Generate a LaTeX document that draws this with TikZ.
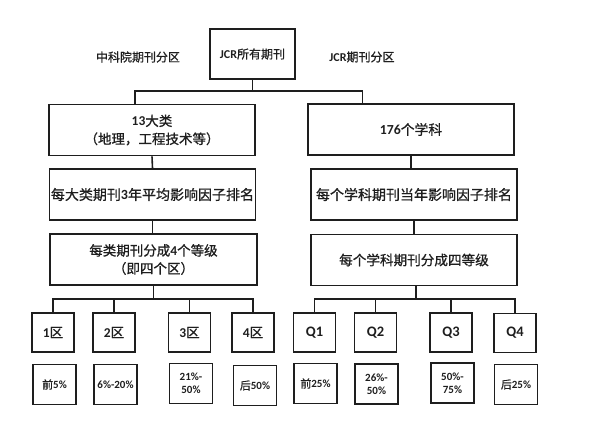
\documentclass[tikz,border=0pt]{standalone}
\usepackage{fontspec}
\setmainfont{Carlito}[BoldFont={Carlito Bold}]
\newfontfamily\cjk{Noto Sans CJK SC}[FakeBold=0.9, BoldFont={Noto Sans CJK SC}, BoldFeatures={FakeBold=0.9}]
\newcommand{\zh}[1]{{\cjk #1}}
\usetikzlibrary{calc}
\definecolor{ink}{HTML}{1E1E1E}
\tikzset{
  box/.style={draw=ink, line width=1.6pt, inner sep=0pt, align=center, text=ink, font=\bfseries},
  bigbox/.style={box, minimum width=206pt, minimum height=51pt},
  qbox/.style={box, minimum width=42pt, minimum height=39pt, font=\bfseries\fontsize{14.5}{16}\selectfont},
  pbox/.style={box, minimum width=43pt, minimum height=40pt, font=\bfseries\fontsize{11}{13}\selectfont},
  conn/.style={draw=ink, line width=1.6pt},
  lbl/.style={text=ink, font=\bfseries\fontsize{12}{14}\selectfont}
}
\begin{document}
\begin{tikzpicture}[x=1pt,y=-1pt]
\useasboundingbox (0,0) rectangle (592,429);
% top
\node[box, minimum width=85pt, minimum height=50pt, font=\bfseries\fontsize{12}{14}\selectfont] (top) at (252.5,54) {JCR\zh{所有期刊}};
\node[lbl] (lblL) at (138,57) {\zh{中科院期刊分区}};
\node[lbl] (lblR) at (362,57) {JCR\zh{期刊分区}};
% left column
\node[bigbox, font=\bfseries\fontsize{13.5}{18}\selectfont] (l1) at (152,130) {13\zh{大类}\\\zh{（地理，工程技术等）}};
\node[bigbox, font=\bfseries\fontsize{14}{17}\selectfont] (l2) at (152.5,194.5) {\zh{每大类期刊}3\zh{年平均影响因子排名}};
\node[bigbox, minimum width=207pt, font=\bfseries\fontsize{13.5}{18}\selectfont] (l3) at (153.5,259.5) {\zh{每类期刊分成}4\zh{个等级}\\\zh{（即四个区）}};
% right column
\node[bigbox, font=\bfseries\fontsize{13.8}{17}\selectfont] (r1) at (411,129.5) {176\zh{个学科}};
\node[bigbox, font=\bfseries\fontsize{14}{17}\selectfont] (r2) at (414,194.5) {\zh{每个学科期刊当年影响因子排名}};
\node[bigbox, font=\bfseries\fontsize{13.6}{17}\selectfont] (r3) at (414,260) {\zh{每个学科期刊分成四等级}};
% zone boxes
\node[qbox, font=\bfseries\fontsize{13.5}{15}\selectfont] (z1) at (53,332.5) {1\zh{区}};
\node[qbox, font=\bfseries\fontsize{13.5}{15}\selectfont] (z2) at (114,332.5) {2\zh{区}};
\node[qbox, font=\bfseries\fontsize{13.5}{15}\selectfont] (z3) at (189.5,332.5) {3\zh{区}};
\node[qbox, font=\bfseries\fontsize{13.5}{15}\selectfont] (z4) at (253,332.5) {4\zh{区}};
\node[qbox] (q1) at (314.5,332.5) {Q1};
\node[qbox] (q2) at (375.5,332.5) {Q2};
\node[qbox] (q3) at (451,332.5) {Q3};
\node[qbox] (q4) at (515,333) {Q4};
% percent boxes
\node[pbox] (p1) at (54.5,384.5) {\zh{前}5\%};
\node[pbox] (p2) at (115.5,384.5) {6\%-20\%};
\node[pbox] (p3) at (191,383.5) {21\%-\\50\%};
\node[pbox] (p4) at (255,385.5) {\zh{后}50\%};
\node[pbox] (s1) at (315.5,383.5) {\zh{前}25\%};
\node[pbox] (s2) at (376.5,384) {26\%-\\50\%};
\node[pbox] (s3) at (452.5,383) {50\%-\\75\%};
\node[pbox] (s4) at (516,384.5) {\zh{后}25\%};
% top connectors
\coordinate (jt) at (top.south |- 0,91);
\draw[conn] (top.south) -- (jt);
\draw[conn] ($(l1.north west)!0.417!(l1.north east)$) |- (jt) -| ($(r1.north west)!0.267!(r1.north east)$);
% column connectors
\draw[conn] (l1.south) -- (l2.north);
\draw[conn] (l2.south) -- (l2.south |- l3.north);
\draw[conn] (r1.south) -- (r1.south |- r2.north);
\draw[conn] (r2.south) -- (r3.north);
% left bus
\coordinate (jl) at (l3.south |- 0,299);
\draw[conn] (l3.south) -- (jl);
\draw[conn] (z1.north) |- (jl) -| (z4.north);
\draw[conn] (z2.north) -- (z2.north |- jl);
\draw[conn] (z3.north) -- (z3.north |- jl);
% right bus
\coordinate (jr) at ($(r3.south)+(2,0)$);
\coordinate (jr2) at (jr |- 0,299);
\draw[conn] (jr) -- (jr2);
\draw[conn] (q1.north) |- (jr2) -| (q4.north);
\draw[conn] (q2.north) -- (q2.north |- jr2);
\draw[conn] (q3.north) -- (q3.north |- jr2);
% zone to percent
\draw[conn] ($(z1.south)+(1.5,0)$) -- ($(z1.south)+(1.5,0)$ |- p1.north);
\draw[conn] ($(z2.south)+(1.5,0)$) -- ($(z2.south)+(1.5,0)$ |- p2.north);
\draw[conn] ($(z3.south)+(1.5,0)$) -- ($(z3.south)+(1.5,0)$ |- p3.north);
\draw[conn] ($(z4.south)+(1.5,0)$) -- ($(z4.south)+(1.5,0)$ |- p4.north);
\draw[conn] ($(q1.south)+(1,0)$) -- ($(q1.south)+(1,0)$ |- s1.north);
\draw[conn] ($(q2.south)+(1,0)$) -- ($(q2.south)+(1,0)$ |- s2.north);
\draw[conn] ($(q3.south)+(1,0)$) -- ($(q3.south)+(1,0)$ |- s3.north);
\draw[conn] ($(q4.south)+(1,0)$) -- ($(q4.south)+(1,0)$ |- s4.north);
\end{tikzpicture}
\end{document}
